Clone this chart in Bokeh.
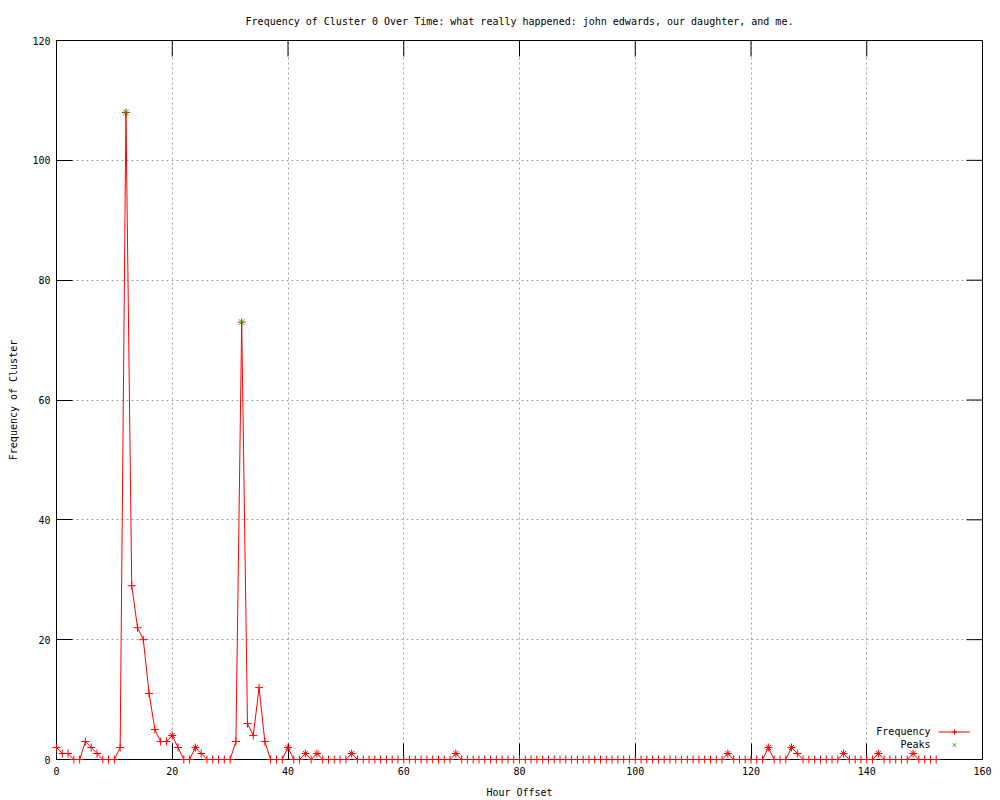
import math
from bokeh.plotting import figure
from bokeh.models import Range1d, FixedTicker, Legend, LegendItem, Label, Title
from bokeh.embed import file_html
from bokeh.resources import INLINE

# ---- data ----
hours = list(range(0, 153))
freq = [2, 1, 1, 0, 0, 3, 2, 1, 0, 0,
        0, 2, 108, 29, 22, 20, 11, 5, 3, 3,
        4, 2, 0, 0, 2, 1, 0, 0, 0, 0,
        0, 3, 73, 6, 4, 12, 3, 0, 0, 0,
        2, 0, 0, 1, 0, 1, 0, 0, 0, 0,
        0, 1, 0, 0, 0, 0, 0, 0, 0, 0,
        0, 0, 0, 0, 0, 0, 0, 0, 0, 1,
        0, 0, 0, 0, 0, 0, 0, 0, 0, 0,
        0, 0, 0, 0, 0, 0, 0, 0, 0, 0,
        0, 0, 0, 0, 0, 0, 0, 0, 0, 0,
        0, 0, 0, 0, 0, 0, 0, 0, 0, 0,
        0, 0, 0, 0, 0, 0, 1, 0, 0, 0,
        0, 0, 0, 2, 0, 0, 0, 2, 1, 0,
        0, 0, 0, 0, 0, 0, 1, 0, 0, 0,
        0, 0, 1, 0, 0, 0, 0, 0, 1, 0,
        0, 0, 0]
peak_hours = [12, 32]
peak_values = [108, 73]
minor_peak_hours = [20, 24, 40, 43, 45, 51, 69, 116, 123, 127, 136, 142, 148]
minor_peak_values = [freq[h] for h in minor_peak_hours]
x_ticks = [0, 20, 40, 60, 80, 100, 120, 140, 160]
y_ticks = [0, 20, 40, 60, 80, 100, 120]
X_MAX, Y_MAX = 160, 120

FONT = "DejaVu Sans Mono"
FS = "10px"

p = figure(width=1000, height=800, x_range=Range1d(0, X_MAX), y_range=Range1d(0, Y_MAX),
           output_backend="svg", toolbar_location=None,
           min_border_left=56, min_border_right=18, min_border_top=39, min_border_bottom=40,
           x_axis_label="Hour Offset", y_axis_label="Frequency of Cluster")

p.add_layout(Title(text="Frequency of Cluster 0 Over Time: what really happened: john edwards, our daughter, and me.",
                   align="center", text_font=FONT, text_font_size=FS, text_font_style="normal",
                   text_color="black", offset=0, standoff=27), "above")

p.outline_line_color = "black"
p.outline_line_width = 1

for ax, ticks in ((p.xaxis[0], x_ticks), (p.yaxis[0], y_ticks)):
    ax.ticker = FixedTicker(ticks=ticks)
    ax.major_tick_in = 16
    ax.major_tick_out = 0
    ax.minor_tick_line_color = None
    ax.axis_line_color = "black"
    ax.major_tick_line_color = "black"
    ax.major_label_text_font = FONT
    ax.major_label_text_font_size = FS
    ax.major_label_text_color = "black"
    ax.axis_label_text_font = FONT
    ax.axis_label_text_font_size = FS
    ax.axis_label_text_font_style = "normal"
    ax.axis_label_text_color = "black"
p.xaxis.major_label_standoff = 7
p.xaxis.axis_label_standoff = 9
p.yaxis.major_label_standoff = 6
p.yaxis.axis_label_standoff = 10

# mirrored ticks on the top and right borders
p.ray(x=x_ticks, y=[Y_MAX] * len(x_ticks), length=16, length_units="screen",
      angle=-math.pi / 2, line_color="black", line_width=1)
p.ray(x=[X_MAX] * len(y_ticks), y=y_ticks, length=16, length_units="screen",
      angle=math.pi, line_color="black", line_width=1)

for g, ticks in ((p.xgrid[0], x_ticks[1:-1]), (p.ygrid[0], y_ticks[1:-1])):
    g.ticker = FixedTicker(ticks=ticks)
    g.grid_line_color = "#a0a0a0"
    g.grid_line_dash = "2 3"
    g.grid_line_width = 1

line_r = p.line(hours, freq, line_color="red", line_width=1)
plus_r = p.scatter(hours, freq, marker="cross", size=8, line_color="red", line_width=1,
                   level="overlay")
p.scatter(minor_peak_hours, minor_peak_values, marker="x", size=7, line_color="red",
          line_width=1, level="overlay")
peak_r = p.scatter(peak_hours, peak_values, marker="x", size=8, line_color="#00c000",
                   line_width=1, level="overlay")

legend = Legend(items=[LegendItem(label=" ", renderers=[line_r, plus_r]),
                       LegendItem(label=" ", renderers=[peak_r])],
                location=(882, 8), glyph_width=32, glyph_height=13, label_height=13,
                label_width=0, label_standoff=0, padding=0, spacing=0, margin=0,
                background_fill_alpha=0, border_line_color=None,
                label_text_font_size=FS)
p.add_layout(legend, "center")
p.add_layout(Label(x=874, y=28, x_units="screen", y_units="screen", text="Frequency",
                   text_align="right", text_baseline="middle", text_font=FONT,
                   text_font_size=FS, text_color="black"))
p.add_layout(Label(x=874, y=15, x_units="screen", y_units="screen", text="Peaks",
                   text_align="right", text_baseline="middle", text_font=FONT,
                   text_font_size=FS, text_color="black"))

open("out.html", "w").write(file_html(p, INLINE))
